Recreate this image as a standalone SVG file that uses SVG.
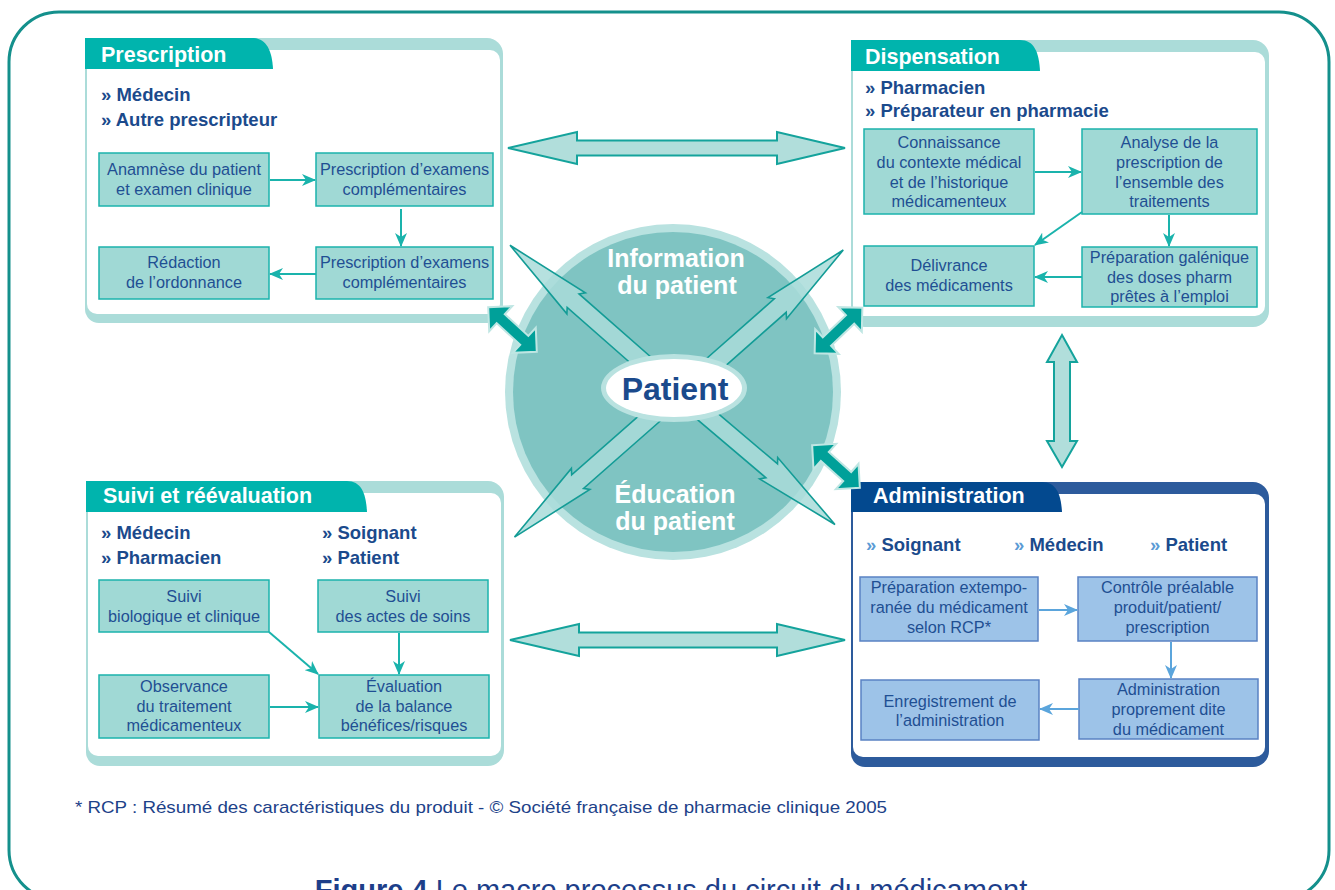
<svg xmlns="http://www.w3.org/2000/svg" width="1335" height="890" viewBox="0 0 1335 890">
<defs>
<style>
text{font-family:"Liberation Sans",Arial,sans-serif}
.frame-t{fill:#abdcd9}
.frame-b{fill:#2d5b9c}
.inner{fill:#ffffff}
.tab-t{fill:#00b4ad}
.tab-b{fill:#03498f}
.title{font-weight:bold;font-size:21.5px;fill:#ffffff}
.actor{font-weight:bold;font-size:18.5px;fill:#1b4a8c}
.rq{fill:#5b9bd5}
.sb{fill:#a0d9d5;stroke:#1bb3ac;stroke-width:1.5}
.sbb{fill:#9dc3e8;stroke:#5a82c3;stroke-width:1.5}
.st{font-size:16.3px;fill:#1f4f93;text-anchor:middle}
.ct{stroke:#1ab3ac;stroke-width:2;fill:none;marker-end:url(#aht)}
.cb{stroke:#5ba5dc;stroke-width:2;fill:none;marker-end:url(#ahb)}
.big{fill:#a9dcd9;fill-opacity:0.85;stroke:#139c96;stroke-width:1.6}
.dbl{fill:#b1dedb;stroke:#14a39c;stroke-width:2}
.dk{fill:#00a099;stroke:#bfe6e3;stroke-width:2}
.circ{font-weight:bold;font-size:25px;fill:#ffffff;text-anchor:middle}
</style>
<marker id="aht" viewBox="0 0 14 12" refX="13" refY="6" markerWidth="14" markerHeight="12" markerUnits="userSpaceOnUse" orient="auto"><path d="M0,0 L14,6 L0,12 L4,6 Z" fill="#1ab3ac"/></marker>
<marker id="ahb" viewBox="0 0 14 12" refX="13" refY="6" markerWidth="14" markerHeight="12" markerUnits="userSpaceOnUse" orient="auto"><path d="M0,0 L14,6 L0,12 L4,6 Z" fill="#5ba5dc"/></marker>
</defs>

<rect x="0" y="0" width="1335" height="890" fill="#ffffff"/>
<!-- outer frame -->
<rect x="9" y="12" width="1320" height="888" rx="50" ry="50" fill="none" stroke="#14908c" stroke-width="3"/>

<!-- central circle -->
<g id="patient-circle">
<circle cx="673" cy="392" r="168" fill="#b9e2e0"/>
<circle cx="673" cy="392" r="160" fill="#7fc4c2"/>
<text class="circ" x="676" y="267">Information</text>
<text class="circ" x="677" y="294">du patient</text>
<text class="circ" x="675" y="503">Éducation</text>
<text class="circ" x="675" y="530">du patient</text>
</g>

<!-- Prescription -->
<g id="prescription">
<path class="frame-t" d="M85,38 H487 A16,16 0 0 1 503,54 V307 A16,16 0 0 1 487,323 H99 A14,14 0 0 1 85,309 Z"/>
<rect class="inner" x="87" y="50" width="413" height="264" rx="10"/>
<path class="tab-t" d="M85,38 H252 C266,38 272,50 273,69 H85 Z"/>
<text class="title" x="101" y="62">Prescription</text>
<text class="actor" x="101" y="101">» Médecin</text>
<text class="actor" x="101" y="126">» Autre prescripteur</text>
<rect class="sb" x="99" y="153" width="170" height="53"/>
<text class="st" x="184" y="175">Anamnèse du patient</text>
<text class="st" x="184" y="195">et examen clinique</text>
<rect class="sb" x="316" y="153" width="177" height="53"/>
<text class="st" x="404.5" y="175">Prescription d’examens</text>
<text class="st" x="404.5" y="195">complémentaires</text>
<rect class="sb" x="99" y="247" width="170" height="52"/>
<text class="st" x="184" y="268">Rédaction</text>
<text class="st" x="184" y="288">de l’ordonnance</text>
<rect class="sb" x="316" y="247" width="177" height="52"/>
<text class="st" x="404.5" y="268">Prescription d’examens</text>
<text class="st" x="404.5" y="288">complémentaires</text>
</g>

<!-- Dispensation -->
<g id="dispensation">
<path class="frame-t" d="M851,40 H1253 A16,16 0 0 1 1269,56 V311 A16,16 0 0 1 1253,327 H865 A14,14 0 0 1 851,313 Z"/>
<rect class="inner" x="853" y="52" width="412" height="264" rx="10"/>
<path class="tab-t" d="M851,40 H1020 C1034,40 1039,52 1040,71 H851 Z"/>
<text class="title" x="865" y="64">Dispensation</text>
<text class="actor" x="865" y="94">» Pharmacien</text>
<text class="actor" x="865" y="117">» Préparateur en pharmacie</text>
<rect class="sb" x="864" y="129" width="170" height="85"/>
<text class="st" x="949" y="148">Connaissance</text>
<text class="st" x="949" y="168">du contexte médical</text>
<text class="st" x="949" y="188">et de l’historique</text>
<text class="st" x="949" y="207">médicamenteux</text>
<rect class="sb" x="1082" y="129" width="175" height="85"/>
<text class="st" x="1169.5" y="148">Analyse de la</text>
<text class="st" x="1169.5" y="168">prescription de</text>
<text class="st" x="1169.5" y="188">l’ensemble des</text>
<text class="st" x="1169.5" y="207">traitements</text>
<rect class="sb" x="864" y="246" width="170" height="60"/>
<text class="st" x="949" y="271">Délivrance</text>
<text class="st" x="949" y="291">des médicaments</text>
<rect class="sb" x="1082" y="247" width="175" height="60"/>
<text class="st" x="1169.5" y="263">Préparation galénique</text>
<text class="st" x="1169.5" y="283">des doses pharm</text>
<text class="st" x="1169.5" y="302">prêtes à l’emploi</text>
</g>

<!-- Suivi et réévaluation -->
<g id="suivi">
<path class="frame-t" d="M86,481 H488 A16,16 0 0 1 504,497 V750 A16,16 0 0 1 488,766 H100 A14,14 0 0 1 86,752 Z"/>
<rect class="inner" x="88" y="493" width="413" height="263" rx="10"/>
<path class="tab-t" d="M86,481 H347 C361,481 366,493 367,512 H86 Z"/>
<text class="title" x="103" y="503">Suivi et réévaluation</text>
<text class="actor" x="101" y="539">» Médecin</text>
<text class="actor" x="101" y="564">» Pharmacien</text>
<text class="actor" x="322" y="539">» Soignant</text>
<text class="actor" x="322" y="564">» Patient</text>
<rect class="sb" x="99" y="580" width="170" height="52"/>
<text class="st" x="184" y="602">Suivi</text>
<text class="st" x="184" y="622">biologique et clinique</text>
<rect class="sb" x="318" y="580" width="170" height="52"/>
<text class="st" x="403" y="602">Suivi</text>
<text class="st" x="403" y="622">des actes de soins</text>
<rect class="sb" x="99" y="675" width="170" height="63"/>
<text class="st" x="184" y="692">Observance</text>
<text class="st" x="184" y="712">du traitement</text>
<text class="st" x="184" y="731">médicamenteux</text>
<rect class="sb" x="319" y="675" width="170" height="63"/>
<text class="st" x="404" y="692">Évaluation</text>
<text class="st" x="404" y="712">de la balance</text>
<text class="st" x="404" y="731">bénéfices/risques</text>
</g>

<!-- Administration -->
<g id="administration">
<path class="frame-b" d="M851,482 H1253 A16,16 0 0 1 1269,498 V751 A16,16 0 0 1 1253,767 H865 A14,14 0 0 1 851,753 Z"/>
<rect class="inner" x="853" y="494" width="412" height="263" rx="10"/>
<path class="tab-b" d="M851,482 H1042 C1056,482 1061,494 1062,512 H851 Z"/>
<text class="title" x="873" y="503">Administration</text>
<text class="actor" x="866" y="551"><tspan class="rq">»</tspan> Soignant</text>
<text class="actor" x="1014" y="551"><tspan class="rq">»</tspan> Médecin</text>
<text class="actor" x="1150" y="551"><tspan class="rq">»</tspan> Patient</text>
<rect class="sbb" x="860" y="577" width="178" height="64"/>
<text class="st" x="949" y="593">Préparation extempo-</text>
<text class="st" x="949" y="613">ranée du médicament</text>
<text class="st" x="949" y="633">selon RCP*</text>
<rect class="sbb" x="1078" y="577" width="179" height="64"/>
<text class="st" x="1167.5" y="593">Contrôle préalable</text>
<text class="st" x="1167.5" y="613">produit/patient/</text>
<text class="st" x="1167.5" y="633">prescription</text>
<rect class="sbb" x="861" y="680" width="178" height="60"/>
<text class="st" x="950" y="707">Enregistrement de</text>
<text class="st" x="950" y="726">l’administration</text>
<rect class="sbb" x="1079" y="679" width="179" height="60"/>
<text class="st" x="1168.5" y="695">Administration</text>
<text class="st" x="1168.5" y="715">proprement dite</text>
<text class="st" x="1168.5" y="735">du médicament</text>
</g>

<g id="connectors">
<!-- big lightning arrows -->
<path class="big" transform="translate(652,370) rotate(-138.7)" d="M0,-9 L105,-9 L101,-14 L189,0 L101,14 L105,9 L0,9 Z"/>
<path class="big" transform="translate(706,371) rotate(-41.4)" d="M0,-9 L99,-9 L95,-14 L183,0 L95,14 L99,9 L0,9 Z"/>
<path class="big" transform="translate(658,411) rotate(138.7)" d="M0,-9 L107,-9 L103,-14 L191,0 L103,14 L107,9 L0,9 Z"/>
<path class="big" transform="translate(700,410) rotate(40.3)" d="M0,-9 L94,-9 L90,-14 L177,0 L90,14 L94,9 L0,9 Z"/>
<!-- dark double arrows -->
<path class="dk" transform="translate(512.5,329.5) rotate(42.6)" d="M-33,0 L-16,-17 L-16,-6 L16,-6 L16,-17 L33,0 L16,17 L16,6 L-16,6 L-16,17 Z"/>
<path class="dk" transform="translate(838.5,330.5) rotate(-43.7)" d="M-33,0 L-16,-17 L-16,-6 L16,-6 L16,-17 L33,0 L16,17 L16,6 L-16,6 L-16,17 Z"/>
<path class="dk" transform="translate(836,466.5) rotate(41.8)" d="M-32,0 L-15,-17 L-15,-6 L15,-6 L15,-17 L32,0 L15,17 L15,6 L-15,6 L-15,17 Z"/>
<!-- light double arrows between boxes -->
<path class="dbl" d="M508,148 L577,132 L577,140.5 L777,140.5 L777,132 L845,148 L777,164 L777,155.5 L577,155.5 L577,164 Z"/>
<path class="dbl" d="M510,640 L579,624 L579,632.5 L777,632.5 L777,624 L845,640 L777,656 L777,647.5 L579,647.5 L579,656 Z"/>
<path class="dbl" d="M1062,335 L1077,362 L1070,362 L1070,441 L1077,441 L1062,467 L1047,441 L1054,441 L1054,362 L1047,362 Z"/>
<!-- inner process arrows -->
<line class="ct" x1="270" y1="180" x2="315" y2="180"/>
<line class="ct" x1="401" y1="209" x2="401" y2="246"/>
<line class="ct" x1="316" y1="274" x2="270" y2="274"/>
<line class="ct" x1="1035" y1="172" x2="1081" y2="172"/>
<line class="ct" x1="1169" y1="215" x2="1169" y2="246"/>
<line class="ct" x1="1082" y1="212" x2="1035" y2="245"/>
<line class="ct" x1="1082" y1="277" x2="1035" y2="277"/>
<line class="ct" x1="269" y1="632" x2="318" y2="674"/>
<line class="ct" x1="399" y1="633" x2="399" y2="674"/>
<line class="ct" x1="270" y1="707" x2="318" y2="707"/>
<line class="cb" x1="1039" y1="610" x2="1077" y2="610"/>
<line class="cb" x1="1171" y1="642" x2="1171" y2="678"/>
<line class="cb" x1="1079" y1="709" x2="1040" y2="709"/>
</g>

<!-- Patient ellipse drawn above arrows -->
<g id="patient">
<ellipse cx="674" cy="388" rx="73" ry="34" fill="#b9e2e0"/>
<ellipse cx="674" cy="388" rx="68" ry="29" fill="#ffffff"/>
<text x="675" y="400" text-anchor="middle" font-weight="bold" font-size="32" fill="#1b4a8c">Patient</text>
</g>

<!-- footnote and caption -->
<text x="75" y="813" font-size="17" fill="#1d4289" textLength="812" lengthAdjust="spacingAndGlyphs">* RCP : Résumé des caractéristiques du produit  - © Société française de pharmacie clinique 2005</text>
<text x="671" y="900" text-anchor="middle" font-size="29" fill="#1d3f8a"><tspan font-weight="bold">Figure 4</tspan> Le macro processus du circuit du médicament</text>
</svg>
